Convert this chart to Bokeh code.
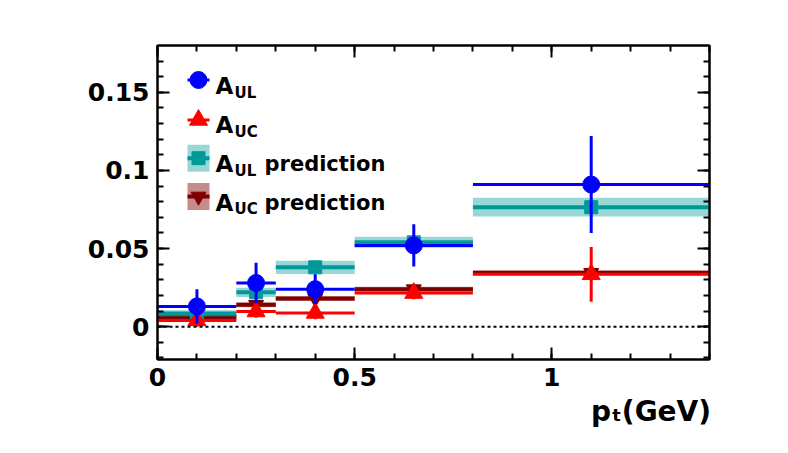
from bokeh.plotting import figure
from bokeh.models import (Range1d, LinearAxis, SingleIntervalTicker, Span, Label,
                          CustomJSTickFormatter)
from bokeh.embed import file_html
from bokeh.resources import INLINE

# ---------------- data ----------------
bin_lo = [0.0, 0.2, 0.3, 0.5, 0.8]
bin_hi = [0.2, 0.3, 0.5, 0.8, 1.4]
bin_c = [0.1, 0.25, 0.4, 0.65, 1.1]

a_ul = [0.013, 0.028, 0.024, 0.052, 0.091]
a_ul_err = [0.011, 0.013, 0.0095, 0.0135, 0.031]

a_uc = [0.004, 0.0097, 0.0088, 0.0215, 0.0335]
a_uc_err = [0.004, 0.004, 0.004, 0.004, 0.0175]

pred_ul = [0.0085, 0.022, 0.038, 0.054, 0.0765]
pred_ul_err = [0.002, 0.003, 0.0042, 0.0035, 0.006]

pred_uc = [0.006, 0.014, 0.018, 0.024, 0.0345]
pred_uc_err = [0.0015, 0.0015, 0.0015, 0.0015, 0.0015]

x_ticks_interval = 0.5
y_ticks_interval = 0.05
x_title = "p\u209c(GeV)"

# ---------------- geometry ----------------
W, H = 772, 437
FL, FR, FT, FB = 157, 709, 45, 359   # frame in canvas pixels
XMIN, XMAX = 0.0, 1.4
YMIN, YMAX = -0.021, 0.18


def px2x(px):
    return XMIN + (px - FL) / (FR - FL) * (XMAX - XMIN)


def px2y(py):
    return YMAX - (py - FT) / (FB - FT) * (YMAX - YMIN)


BLUE = "#0000FF"
RED = "#FF0000"
TEAL = "#009999"
MAROON = "#800000"
FONT = "DejaVu Sans"

p = figure(width=W, height=H, output_backend="svg", toolbar_location=None,
           x_range=Range1d(XMIN, XMAX), y_range=Range1d(YMIN, YMAX),
           x_axis_location=None, y_axis_location=None,
           min_border_left=FL, min_border_right=W - FR,
           min_border_top=FT, min_border_bottom=H - FB)
p.grid.visible = False
p.outline_line_color = "black"
p.outline_line_width = 2
p.background_fill_color = "white"
p.border_fill_color = "white"


def make_axis(ticker, show_labels):
    ax = LinearAxis(ticker=ticker)
    ax.axis_line_width = 2
    ax.axis_line_color = "black"
    ax.major_tick_in = 12
    ax.major_tick_out = 0
    ax.minor_tick_in = 6
    ax.minor_tick_out = 0
    ax.major_tick_line_width = 2
    ax.minor_tick_line_width = 2
    ax.major_tick_line_color = "black"
    ax.minor_tick_line_color = "black"
    if show_labels:
        ax.major_label_text_font = FONT
        ax.major_label_text_font_style = "bold"
        ax.major_label_text_font_size = "25px"
        ax.major_label_text_color = "black"
        ax.major_label_standoff = 8
    else:
        ax.formatter = CustomJSTickFormatter(code="return ''")
        ax.major_label_standoff = 0
    return ax


xt = lambda: SingleIntervalTicker(interval=x_ticks_interval, num_minor_ticks=5)
yt = lambda: SingleIntervalTicker(interval=y_ticks_interval, num_minor_ticks=5)

# the axis title is centred on the axis end; pad it with no-break spaces of the
# same width so that its visible part ends at the right edge of the frame
xaxis = make_axis(xt(), True)
xaxis.axis_label = x_title + "\u00a0" * 12
xaxis.axis_label_text_font = FONT
xaxis.axis_label_text_font_style = "bold"
xaxis.axis_label_text_font_size = "28px"
xaxis.axis_label_text_color = "black"
xaxis.axis_label_align = "end"
xaxis.axis_label_standoff = 6
p.add_layout(xaxis, "below")
p.add_layout(make_axis(xt(), False), "above")
p.add_layout(make_axis(yt(), True), "left")
p.add_layout(make_axis(yt(), False), "right")

# zero line
p.add_layout(Span(location=0, dimension="width", line_color="black",
                  line_width=2, line_dash="3 3"))

# ---------------- predictions ----------------
def pred_series(vals, errs, color, band_alpha, marker, msize):
    p.quad(left=bin_lo, right=bin_hi,
           bottom=[v - e for v, e in zip(vals, errs)],
           top=[v + e for v, e in zip(vals, errs)],
           fill_color=color, fill_alpha=band_alpha, line_color=None)
    p.segment(x0=bin_lo, x1=bin_hi, y0=vals, y1=vals, line_color=color, line_width=4)
    p.scatter(x=bin_c, y=vals, marker=marker, size=msize, fill_color=color,
              line_color=color)


pred_series(pred_uc, pred_uc_err, MAROON, 0.45, "inverted_triangle", 15)
pred_series(pred_ul, pred_ul_err, TEAL, 0.4, "square", 13)

# ---------------- data ----------------
def data_series(vals, errs, color, marker, msize):
    p.segment(x0=bin_lo, x1=bin_hi, y0=vals, y1=vals, line_color=color, line_width=3)
    p.segment(x0=bin_c, x1=bin_c,
              y0=[v - e for v, e in zip(vals, errs)],
              y1=[v + e for v, e in zip(vals, errs)],
              line_color=color, line_width=3)
    p.scatter(x=bin_c, y=vals, marker=marker, size=msize, fill_color=color,
              line_color=color)


data_series(a_uc, a_uc_err, RED, "triangle", 18)
data_series(a_ul, a_ul_err, BLUE, "circle", 17)

# ---------------- legend (hand-built for subscripts) ----------------
legend_entries = [
    ("A", "UL", "", BLUE, "circle", 17, False),
    ("A", "UC", "", RED, "triangle", 18, False),
    ("A", "UL", "prediction", TEAL, "square", 13, True),
    ("A", "UC", "prediction", MAROON, "inverted_triangle", 15, True),
]
row_mid = [79.5, 119.5, 157.7, 196.0]
row_base = [85.5, 124.5, 163.5, 202.0]
for (main, sub, extra, color, marker, msize, band), ym, yb in zip(legend_entries, row_mid, row_base):
    if band:
        p.quad(left=[px2x(187)], right=[px2x(209)], bottom=[px2y(ym + 13.5)],
               top=[px2y(ym - 13.5)], fill_color=color,
               fill_alpha=0.4 if color == TEAL else 0.45, line_color=None)
        lw = 4
    else:
        lw = 3
    p.segment(x0=[px2x(187)], x1=[px2x(209)], y0=[px2y(ym)], y1=[px2y(ym)],
              line_color=color, line_width=lw)
    p.scatter(x=[px2x(198)], y=[px2y(ym)], marker=marker, size=msize,
              fill_color=color, line_color=color)
    p.add_layout(Label(x=px2x(215), y=px2y(yb), text=main, text_font=FONT,
                       text_font_style="bold", text_font_size="23px",
                       text_baseline="alphabetic", text_align="left",
                       text_color="black"))
    p.add_layout(Label(x=px2x(234), y=px2y(yb + 6.5), text=sub, text_font=FONT,
                       text_font_style="bold", text_font_size="15px",
                       text_baseline="alphabetic", text_align="left",
                       text_color="black"))
    if extra:
        p.add_layout(Label(x=px2x(264), y=px2y(yb), text=extra, text_font=FONT,
                           text_font_style="bold", text_font_size="21px",
                           text_baseline="alphabetic", text_align="left",
                           text_color="black"))

open("out.html", "w").write(file_html(p, INLINE))
